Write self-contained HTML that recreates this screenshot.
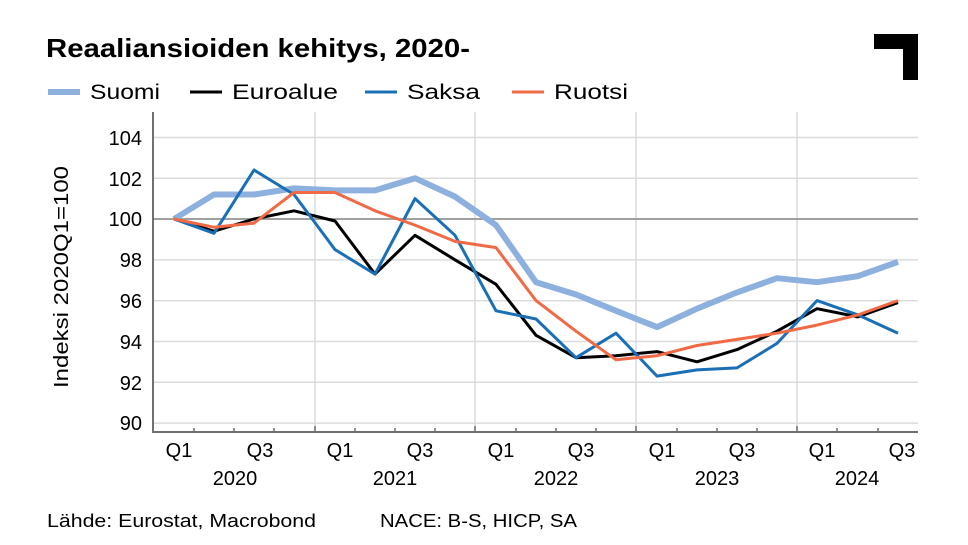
<!DOCTYPE html>
<html><head><meta charset="utf-8"><style>
body{margin:0;background:#fff;}
svg{display:block;font-family:"Liberation Sans",sans-serif;}
</style></head><body>
<svg width="968" height="545" viewBox="0 0 968 545" xmlns="http://www.w3.org/2000/svg">
<text x="46" y="57" font-size="26" font-weight="bold" fill="#000" textLength="424" lengthAdjust="spacingAndGlyphs">Reaaliansioiden kehitys, 2020-</text>
<path d="M874 34H918V80H903V49H874Z" fill="#000"/>
<g font-size="21" fill="#000">
<line x1="48" y1="92" x2="80" y2="92" stroke="#8eb0de" stroke-width="6"/><text x="90" y="99" textLength="70" lengthAdjust="spacingAndGlyphs">Suomi</text>
<line x1="190" y1="92" x2="222" y2="92" stroke="#000" stroke-width="3"/><text x="232" y="99" textLength="106" lengthAdjust="spacingAndGlyphs">Euroalue</text>
<line x1="365" y1="92" x2="397" y2="92" stroke="#1a6fb5" stroke-width="3"/><text x="407" y="99" textLength="73" lengthAdjust="spacingAndGlyphs">Saksa</text>
<line x1="512" y1="92" x2="544" y2="92" stroke="#ef6a45" stroke-width="3"/><text x="554" y="99" textLength="74" lengthAdjust="spacingAndGlyphs">Ruotsi</text>
</g>
<g stroke="#dcdcdc" stroke-width="1.5">
<line x1="153" x2="918" y1="137.5" y2="137.5"/><line x1="153" x2="918" y1="178.3" y2="178.3"/>
<line x1="153" x2="918" y1="259.9" y2="259.9"/><line x1="153" x2="918" y1="300.7" y2="300.7"/>
<line x1="153" x2="918" y1="341.5" y2="341.5"/><line x1="153" x2="918" y1="382.3" y2="382.3"/>
<line x1="153" x2="918" y1="423.1" y2="423.1"/>
<line x1="315" x2="315" y1="112" y2="432"/><line x1="475" x2="475" y1="112" y2="432"/>
<line x1="636" x2="636" y1="112" y2="432"/><line x1="797" x2="797" y1="112" y2="432"/>
</g>
<line x1="153" x2="918" y1="219" y2="219" stroke="#a0a0a0" stroke-width="2"/>
<path d="M153 112V432H918" fill="none" stroke="#707070" stroke-width="2"/>
<g stroke="#707070" stroke-width="1.5">
<path d="M194 432v-4M234 432v-4M274 432v-4M315 432v-6M355 432v-4M395 432v-4M435 432v-4M475 432v-6M516 432v-4M556 432v-4M596 432v-4M636 432v-6M677 432v-4M717 432v-4M757 432v-4M797 432v-6M837 432v-4M878 432v-4"/>
</g>
<g font-size="20" fill="#000" text-anchor="end">
<text x="142" y="145">104</text><text x="142" y="186">102</text><text x="142" y="226">100</text>
<text x="142" y="267">98</text><text x="142" y="308">96</text><text x="142" y="349">94</text>
<text x="142" y="390">92</text><text x="142" y="430">90</text>
</g>
<text transform="translate(68,277) rotate(-90)" font-size="20" text-anchor="middle" textLength="222" lengthAdjust="spacingAndGlyphs">Indeksi 2020Q1=100</text>
<g font-size="20" text-anchor="middle">
<text x="179" y="457">Q1</text><text x="260" y="457">Q3</text><text x="340" y="457">Q1</text><text x="420" y="457">Q3</text>
<text x="501" y="457">Q1</text><text x="581" y="457">Q3</text><text x="662" y="457">Q1</text><text x="742" y="457">Q3</text>
<text x="822" y="457">Q1</text><text x="902" y="457">Q3</text>
<text x="235" y="485">2020</text><text x="395" y="485">2021</text><text x="556" y="485">2022</text>
<text x="717" y="485">2023</text><text x="857" y="485">2024</text>
</g>
<g font-size="18"><text x="47" y="527" textLength="269" lengthAdjust="spacingAndGlyphs">Lähde: Eurostat, Macrobond</text><text x="380" y="527" textLength="197" lengthAdjust="spacingAndGlyphs">NACE: B-S, HICP, SA</text></g>
<g fill="none" stroke-linejoin="round">
<polyline stroke="#8eb0de" stroke-width="6" points="174,219 214,194.5 254,194.5 294,188.4 335,190.4 375,190.4 415,178.2 455,196.6 496,225.1 536,282.2 576,294.5 616,310.8 657,327.1 697,308.7 737,292.4 777,278.2 817,282.2 858,276.1 898,261.8"/>
<polyline stroke="#000" stroke-width="3" points="174,219 214,231.2 254,219 294,210.8 335,221 375,274.1 415,235.3 455,259.8 496,284.3 536,335.3 576,357.7 616,355.7 657,351.6 697,361.8 737,349.6 777,331.2 817,308.7 858,316.9 898,302.6"/>
<polyline stroke="#1a6fb5" stroke-width="3" points="174,219 214,233.3 254,170 294,194.5 335,249.6 375,274.1 415,198.6 455,235.3 496,310.8 536,319 576,357.7 616,333.2 657,376.1 697,369.9 737,367.9 777,343.4 817,300.6 858,314.9 898,333.2"/>
<polyline stroke="#ef6a45" stroke-width="3" points="174,219 214,227.2 254,223.1 294,192.5 335,192.5 375,210.8 415,225.1 455,241.4 496,247.6 536,300.6 576,331.2 616,359.8 657,355.7 697,345.5 737,339.4 777,333.2 817,325.1 858,314.9 898,300.6"/>
</g>
</svg>
</body></html>
